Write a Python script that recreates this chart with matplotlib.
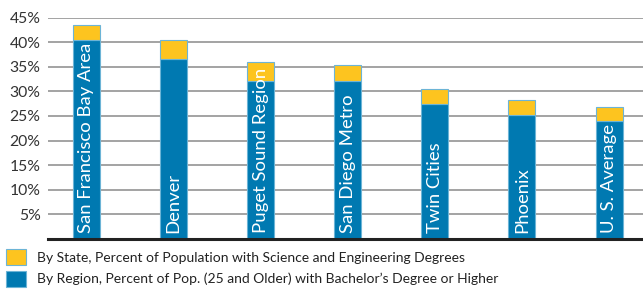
import matplotlib
matplotlib.use("Agg")
import matplotlib.pyplot as plt
import numpy as np

# values (percent)
regions = ["San Francisco Bay Area", "Denver", "Puget Sound Region", "San Diego Metro",
           "Twin Cities", "Phoenix", "U. S. Average"]
bachelor = [40.5, 36.6, 32.0, 32.0, 27.4, 25.1, 24.0]
sci_eng = [2.9, 3.8, 4.0, 3.3, 3.1, 3.1, 2.8]
yticks = [5, 10, 15, 20, 25, 30, 35, 40, 45]

blue = "#0079b1"
yellow = "#fdc41f"
edge = "#6cb4d6"

plt.rcParams['font.family'] = ['Lato', 'DejaVu Sans']

fig = plt.figure(figsize=(6.43, 2.94), dpi=100)
ax = fig.add_axes([47.5/643, 55/294, 1 - 47.5/643, (239-17.5)/294])

x = np.arange(len(regions))
w = 0.31
ax.bar(x, bachelor, w, color=blue, edgecolor=edge, linewidth=0.8, zorder=3)
ax.bar(x, sci_eng, w, bottom=bachelor, color=yellow, edgecolor=edge, linewidth=0.8, zorder=3)

for i, name in enumerate(regions):
    ax.text(x[i], 1.2, name, rotation=90, ha="center", va="bottom", color="white",
            fontsize=13.3, zorder=4)

ax.set_xlim(-0.446, 6.39)
ax.set_ylim(0, 45)
ax.set_yticks(yticks)
ax.set_yticklabels([str(t) + "%" for t in yticks], color="#333333", fontsize=11.3)
ax.tick_params(axis="y", length=0, pad=5)
ax.set_xticks([])
ax.yaxis.grid(True, color="#8a8a8a", linewidth=1.1, zorder=0)
for s in ["top", "right", "left"]:
    ax.spines[s].set_visible(False)
ax.spines["bottom"].set_color("#222222")
ax.spines["bottom"].set_linewidth(2.2)
ax.spines["bottom"].set_zorder(5)

h1 = plt.Rectangle((0, 0), 1, 1, facecolor=yellow, edgecolor=edge, linewidth=0.8)
h2 = plt.Rectangle((0, 0), 1, 1, facecolor=blue, edgecolor=edge, linewidth=0.8)
leg = fig.legend([h1, h2],
           ["By State, Percent of Population with Science and Engineering Degrees",
            "By Region, Percent of Pop. (25 and Older) with Bachelor\u2019s Degree or Higher"],
           loc="upper left", bbox_to_anchor=(6/643, 1 - 249/294), frameon=False,
           handlelength=1.45, handleheight=1.38, handletextpad=0.75, labelspacing=0.42,
           prop={'family': ['Lato', 'DejaVu Sans'], 'size': 10},
           labelcolor="#222222", borderaxespad=0, borderpad=0)

fig.savefig("out.png", dpi=100)
